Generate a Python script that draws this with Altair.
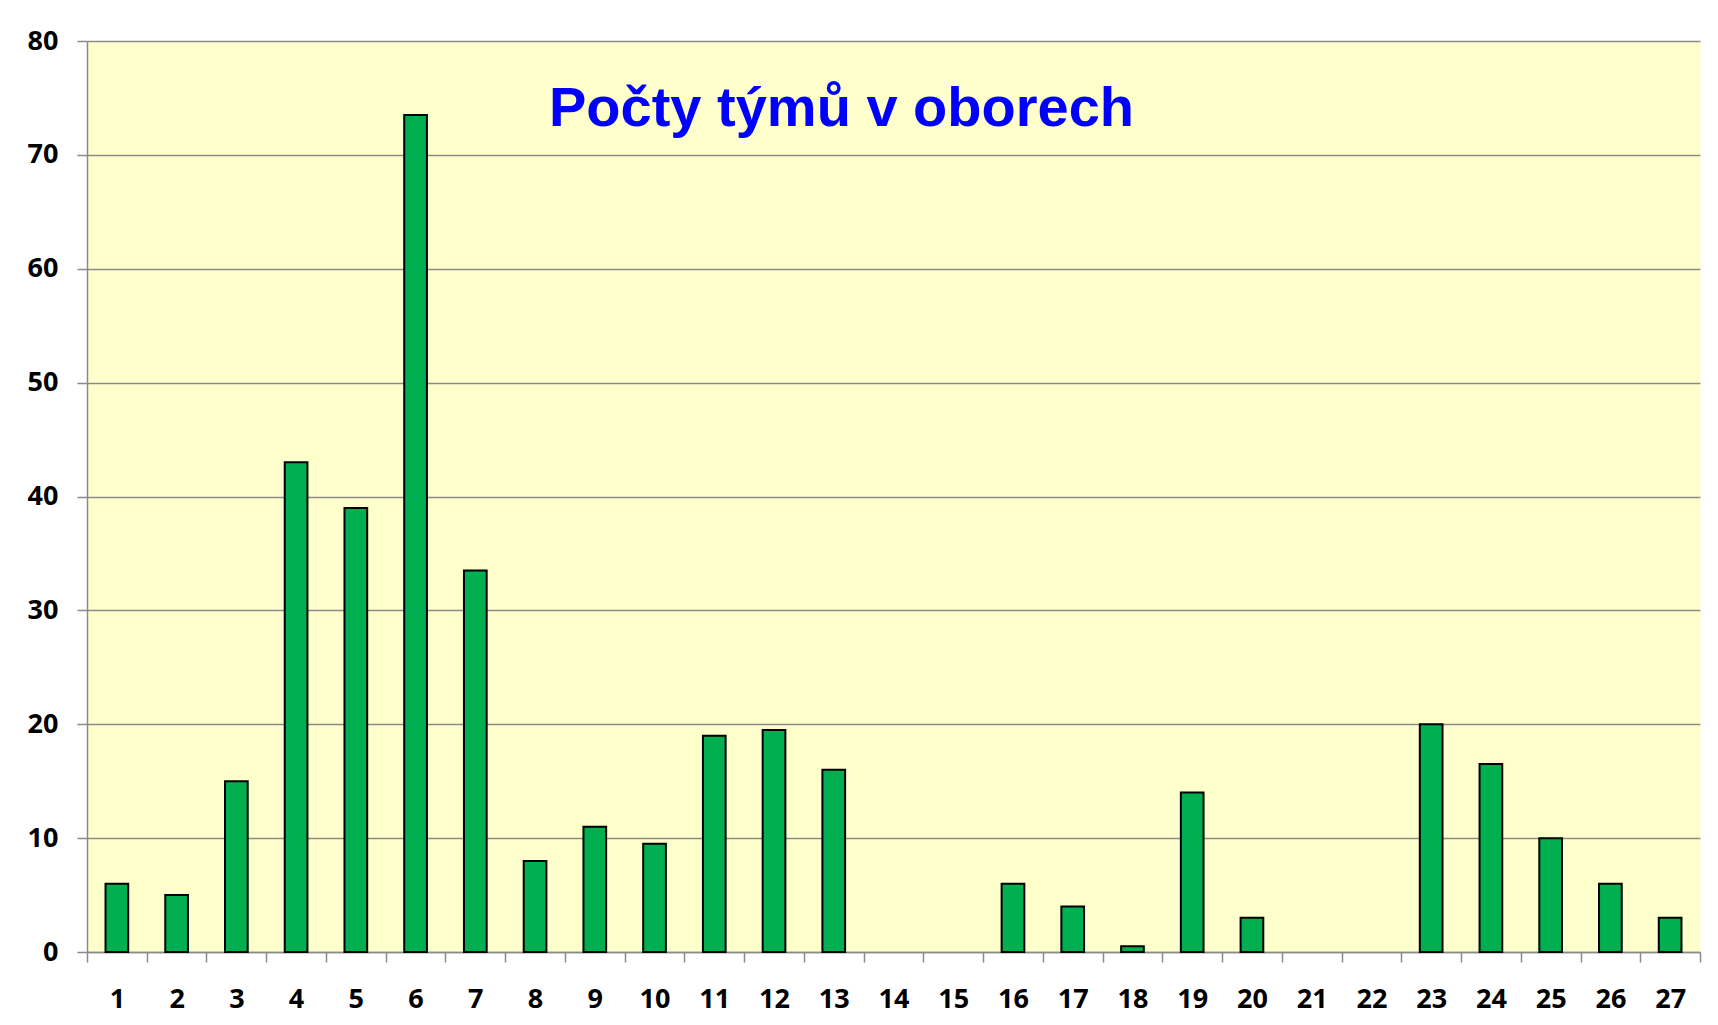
import altair as alt
import pandas as pd

# Data
obory = ["1", "2", "3", "4", "5", "6", "7", "8", "9", "10", "11", "12", "13", "14",
         "15", "16", "17", "18", "19", "20", "21", "22", "23", "24", "25", "26", "27"]
pocty = [6, 5, 15, 43, 39, 73.5, 33.5, 8, 11, 9.5, 19, 19.5, 16, 0, 0, 6, 4, 0.5,
         14, 3, 0, 0, 20, 16.5, 10, 6, 3]
y_ticks = [0, 10, 20, 30, 40, 50, 60, 70, 80]
title_text = "Počty týmů v oborech"

df = pd.DataFrame({"obor": obory, "pocet": pocty})

GRID = "#8a8a8a"
LABEL_FONT = "Open Sans"

bars = (
    alt.Chart(df)
    .transform_filter("datum.pocet > 0")
    .mark_bar(color="#00b050", stroke="#000000", strokeWidth=2,
              width=alt.RelativeBandSize(0.38))
    .encode(
        x=alt.X(
            "obor:N",
            sort=obory,
            scale=alt.Scale(domain=obory, paddingInner=0, paddingOuter=0),
            axis=alt.Axis(
                title=None,
                labelAngle=0,
                tickBand="extent",
                grid=False,
                domainColor=GRID,
                domainWidth=1.5,
                tickColor=GRID,
                tickWidth=1.5,
                tickSize=10,
                labelFont=LABEL_FONT,
                labelFontWeight="bold",
                labelFontSize=27,
                labelColor="#000000",
                labelPadding=24,
            ),
        ),
        y=alt.Y(
            "pocet:Q",
            scale=alt.Scale(domain=[0, 80], nice=False),
            axis=alt.Axis(
                title=None,
                values=y_ticks,
                format="d",
                grid=True,
                gridColor=GRID,
                gridWidth=1.5,
                domainColor=GRID,
                domainWidth=1.5,
                tickColor=GRID,
                tickWidth=1.5,
                tickSize=10,
                labelFont=LABEL_FONT,
                labelFontWeight="bold",
                labelFontSize=27,
                labelColor="#000000",
                labelPadding=19,
            ),
        ),
    )
)

chart = (
    bars.properties(
        width=1613,
        height=911,
        background="#ffffff",
        autosize=alt.AutoSizeParams(type="none"),
        padding={"left": 79, "top": 33, "right": 6, "bottom": 62},
        title=alt.TitleParams(
            text=title_text,
            anchor="middle",
            frame="group",
            orient="top",
            offset=0,
            dx=-52,
            dy=155,
            baseline="alphabetic",
            font="Liberation Sans",
            fontSize=56,
            fontWeight="bold",
            color="#0000ff",
        ),
    )
    .configure_view(fill="#ffffcc", stroke="transparent")
)

chart.save("out.html", embed_options={"renderer": "svg", "actions": False})
